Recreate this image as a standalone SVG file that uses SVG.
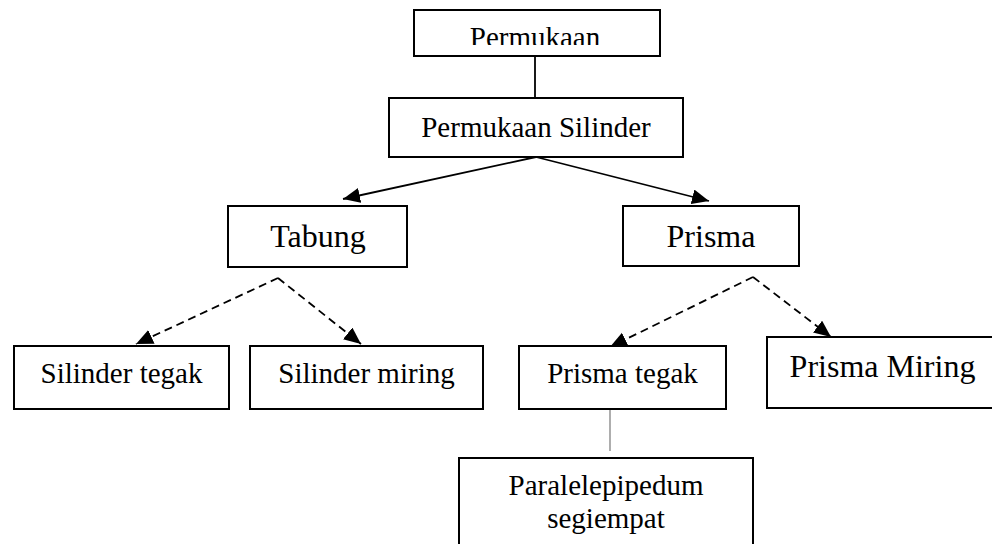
<svg xmlns="http://www.w3.org/2000/svg" width="992" height="544" viewBox="0 0 992 544">
<style>
.box{fill:#fff;stroke:#000;stroke-width:2}
.t{fill:#000;text-anchor:middle}
.s29{font-size:29px}
.s32{font-size:32px}
.solid{stroke:#000;stroke-width:1.8;fill:none}
.dash{stroke:#000;stroke-width:1.8;fill:none;stroke-dasharray:8 5}
.thin{stroke:#777;stroke-width:1.2;fill:none}
</style>
<defs>
<marker id="ah" markerUnits="userSpaceOnUse" markerWidth="18" markerHeight="16" refX="17" refY="7.5" orient="auto">
<path d="M0,0 L17,7.5 L0,15 z" fill="#000"/>
</marker>
<clipPath id="clipP"><rect x="415" y="11" width="244" height="34"/></clipPath>
</defs>
<rect width="992" height="544" fill="#fff"/>
<g id="connectors">
<line class="solid" x1="535" y1="56" x2="535" y2="98"/>
<line class="solid" x1="536" y1="157" x2="343" y2="199" marker-end="url(#ah)"/>
<line class="solid" x1="536" y1="157" x2="709" y2="201" marker-end="url(#ah)"/>
<line class="dash" x1="278" y1="278" x2="136" y2="344" marker-end="url(#ah)"/>
<line class="dash" x1="278" y1="278" x2="361" y2="344" marker-end="url(#ah)"/>
<line class="dash" x1="753" y1="277" x2="610" y2="347" marker-end="url(#ah)"/>
<line class="dash" x1="753" y1="277" x2="831" y2="337" marker-end="url(#ah)"/>
<line class="thin" x1="610" y1="409" x2="610" y2="451"/>
</g>
<g font-family="'Liberation Serif', 'Times New Roman', 'DejaVu Serif', serif">
<g id="permukaan">
<rect class="box" x="414" y="10" width="246" height="46"/>
<text class="t s29" x="535" y="47" clip-path="url(#clipP)">Permukaan</text>
</g>
<g id="permukaan-silinder">
<rect class="box" x="389" y="98" width="294" height="59"/>
<text class="t s29" x="536" y="137">Permukaan Silinder</text>
</g>
<g id="tabung">
<rect class="box" x="228" y="206" width="179" height="61"/>
<text class="t s32" x="318" y="247">Tabung</text>
</g>
<g id="prisma">
<rect class="box" x="623" y="206" width="176" height="60"/>
<text class="t s32" x="711" y="247">Prisma</text>
</g>
<g id="silinder-tegak">
<rect class="box" x="14" y="346" width="215" height="63"/>
<text class="t s29" x="121.5" y="383">Silinder tegak</text>
</g>
<g id="silinder-miring">
<rect class="box" x="250" y="346" width="233" height="63"/>
<text class="t s29" x="366.5" y="383">Silinder miring</text>
</g>
<g id="prisma-tegak">
<rect class="box" x="519" y="346" width="207" height="63"/>
<text class="t s29" x="622.5" y="383">Prisma tegak</text>
</g>
<g id="prisma-miring">
<rect class="box" x="767" y="337" width="240" height="71"/>
<text class="t s32" x="882.5" y="377">Prisma Miring</text>
</g>
<g id="paralelepipedum">
<rect class="box" x="459" y="458" width="294" height="100"/>
<text class="t s29" x="606" y="495">Paralelepipedum</text>
<text class="t s29" x="606" y="528">segiempat</text>
</g>
</g>
</svg>
